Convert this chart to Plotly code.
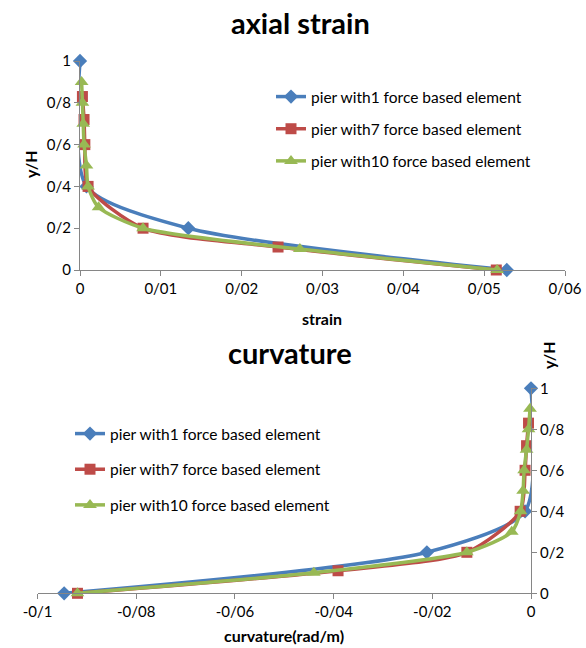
import plotly.graph_objects as go

# Normalised pier height of each sampled section
h_1 = [0, 0.2, 0.4, 1]
h_7 = [0, 0.11, 0.2, 0.4, 0.6, 0.72, 0.83]
h_10 = [0, 0.1, 0.2, 0.3, 0.4, 0.5, 0.6, 0.7, 0.8, 0.9]

# Axial strain along the height
strain_1 = [0.0528, 0.0134, 0.0008, 0]
strain_7 = [0.0515, 0.0245, 0.0078, 0.001, 0.0006, 0.0005, 0.0003]
strain_10 = [0.0516, 0.0272, 0.0078, 0.0023, 0.001, 0.0008, 0.0005, 0.0004, 0.0003, 0.0002]

# Curvature (rad/m) along the height
curv_1 = [-0.0946, -0.0211, -0.0012, 0]
curv_7 = [-0.0919, -0.0391, -0.013, -0.0022, -0.0012, -0.0009, -0.0005]
curv_10 = [-0.0919, -0.044, -0.013, -0.0039, -0.0021, -0.0016, -0.0014, -0.0009, -0.0005, -0.0002]

names = ["pier with1 force based element",
         "pier with7 force based element",
         "pier with10 force based element"]

strain_ticks = [0, 0.01, 0.02, 0.03, 0.04, 0.05, 0.06]
strain_text = ["0", "0/01", "0/02", "0/03", "0/04", "0/05", "0/06"]
curv_ticks = [-0.1, -0.08, -0.06, -0.04, -0.02, 0]
curv_text = ["-0/1", "-0/08", "-0/06", "-0/04", "-0/02", "0"]
h_ticks = [0, 0.2, 0.4, 0.6, 0.8, 1]
h_text = ["0", "0/2", "0/4", "0/6", "0/8", "1"]

colors = ["#4A7EBB", "#BE4B48", "#98B954"]
symbols = ["diamond", "square", "triangle-up"]
sizes = [11, 11, 12]

FONT = "Lato"
fig = go.Figure()

series = [(h_1, strain_1, curv_1), (h_7, strain_7, curv_7), (h_10, strain_10, curv_10)]
for i, (h, s, c) in enumerate(series):
    common = dict(mode="lines+markers", line=dict(color=colors[i], width=3.5, shape="spline", smoothing=0.7),
                  marker=dict(symbol=symbols[i], size=sizes[i], color=colors[i]),
                  cliponaxis=False, name=names[i], legendgroup=f"g{i}")
    fig.add_trace(go.Scatter(x=s, y=h, xaxis="x", yaxis="y", legend="legend", **common))
    fig.add_trace(go.Scatter(x=c, y=h, xaxis="x2", yaxis="y2", legend="legend2", **common))

axis_common = dict(showgrid=False, zeroline=False, showline=True, linecolor="#868686", linewidth=1,
                   ticks="outside", ticklen=5, tickcolor="#868686", automargin=False,
                   tickfont=dict(family=FONT, size=15, color="black"))

fig.update_layout(
    width=586, height=648, margin=dict(l=0, r=0, t=0, b=0),
    paper_bgcolor="white", plot_bgcolor="white",
    font=dict(family=FONT, color="black"),
    xaxis=dict(domain=[80 / 586, 565 / 586], range=[0, 0.06], tickvals=strain_ticks, ticktext=strain_text,
               anchor="y", **axis_common),
    yaxis=dict(domain=[(648 - 270) / 648, (648 - 61) / 648], range=[0, 1], tickvals=h_ticks, ticktext=h_text,
               anchor="x", **axis_common),
    xaxis2=dict(domain=[37.5 / 586, 531 / 586], range=[-0.1, 0], tickvals=curv_ticks, ticktext=curv_text,
                anchor="y2", **axis_common),
    yaxis2=dict(domain=[(648 - 593.3) / 648, (648 - 388.3) / 648], range=[0, 1], tickvals=h_ticks,
                ticktext=h_text, anchor="x2", side="right", **axis_common),
    legend=dict(x=271 / 586, y=1 - 80 / 648, xanchor="left", yanchor="top", tracegroupgap=9,
                font=dict(family=FONT, size=15.5), bgcolor="rgba(0,0,0,0)"),
    legend2=dict(x=70 / 586, y=1 - 417 / 648, xanchor="left", yanchor="top", tracegroupgap=12.5,
                 font=dict(family=FONT, size=15.5), bgcolor="rgba(0,0,0,0)"),
    showlegend=True,
)

texts = [
    dict(text="<b>axial strain</b>", x=300, y=22, size=29, angle=0),
    dict(text="<b>curvature</b>", x=290, y=352, size=29, angle=0),
    dict(text="<b>strain</b>", x=322, y=318, size=16, angle=0),
    dict(text="<b>curvature(rad/m)</b>", x=284, y=635, size=16, angle=0),
    dict(text="<b>y/H</b>", x=30, y=164, size=16, angle=-90),
    dict(text="<b>y/H</b>", x=548, y=355, size=16, angle=-90),
]
for t in texts:
    fig.add_annotation(text=t["text"], x=t["x"] / 586, y=1 - t["y"] / 648, xref="paper", yref="paper",
                       showarrow=False, textangle=t["angle"], xanchor="center", yanchor="middle",
                       font=dict(family=FONT, size=t["size"], color="black"))

fig.write_html("out.html")
